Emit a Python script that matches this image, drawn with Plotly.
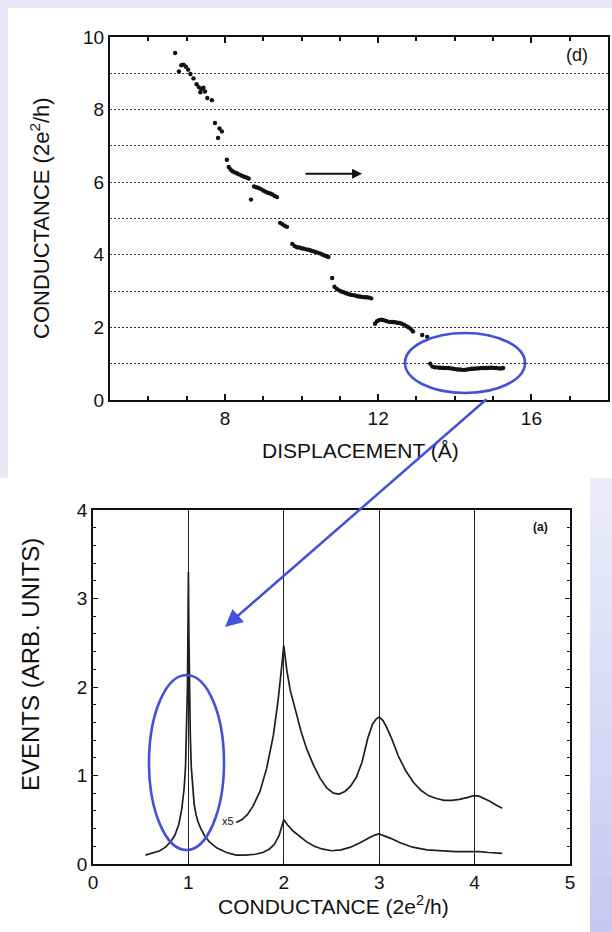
import plotly.graph_objects as go

W, H = 612, 932

# ---- panel (d): conductance vs. tip displacement ----
disp = [6.70, 6.80, 6.86, 6.92, 6.98, 7.04, 7.10, 7.18, 7.26, 7.32, 7.38, 7.44, 7.36, 7.48, 7.54, 7.66,
        7.74, 7.86, 7.92, 7.82,
        8.05, 8.10, 8.15, 8.20, 8.26, 8.32, 8.38, 8.44, 8.50, 8.56, 8.62, 8.68,
        8.76, 8.82, 8.88, 8.94, 9.00, 9.06, 9.12, 9.18, 9.24, 9.30, 9.36,
        9.44, 9.50, 9.56, 9.62,
        9.76, 9.82, 9.88, 9.94, 10.00, 10.06, 10.12, 10.18, 10.24, 10.30, 10.36, 10.42, 10.48, 10.54,
        10.60, 10.66, 10.70,
        10.80, 10.86, 10.92, 10.98, 11.04, 11.10, 11.16, 11.22, 11.28, 11.34, 11.40, 11.46, 11.52,
        11.58, 11.64, 11.70, 11.76, 11.82,
        11.92, 11.97, 12.02, 12.08, 12.14, 12.20, 12.26, 12.32, 12.38, 12.44, 12.50, 12.56, 12.62,
        12.68, 12.74, 12.80, 12.86, 12.91, 13.15, 13.28,
        13.36, 13.42, 13.48, 13.54, 13.60, 13.66, 13.72, 13.78, 13.84, 13.90, 13.96, 14.02, 14.08,
        14.14, 14.20, 14.26, 14.32, 14.38, 14.44, 14.50, 14.56, 14.62, 14.68, 14.74, 14.80, 14.86,
        14.92, 14.98, 15.04, 15.10, 15.16, 15.22, 15.26]
cond = [9.56, 9.05, 9.22, 9.24, 9.18, 9.10, 8.98, 8.86, 8.70, 8.62, 8.57, 8.60, 8.48, 8.50, 8.32, 8.26,
        7.63, 7.48, 7.40, 7.22,
        6.62, 6.42, 6.35, 6.30, 6.27, 6.24, 6.21, 6.18, 6.15, 6.13, 6.10, 5.52,
        5.88, 5.86, 5.84, 5.81, 5.77, 5.74, 5.71, 5.69, 5.66, 5.62, 5.59,
        4.88, 4.84, 4.80, 4.77,
        4.30, 4.24, 4.21, 4.20, 4.18, 4.17, 4.15, 4.14, 4.12, 4.10, 4.08, 4.06, 4.04, 4.01,
        3.98, 3.96, 3.94,
        3.36, 3.12, 3.06, 3.02, 2.99, 2.97, 2.94, 2.92, 2.90, 2.89, 2.88, 2.86, 2.85,
        2.84, 2.83, 2.83, 2.82, 2.80,
        2.10, 2.17, 2.20, 2.21, 2.20, 2.18, 2.16, 2.15, 2.15, 2.14, 2.13, 2.12, 2.10,
        2.07, 2.03, 2.00, 1.95, 1.89, 1.79, 1.74,
        1.00, 0.92, 0.90, 0.90, 0.89, 0.89, 0.88, 0.88, 0.88, 0.87, 0.86, 0.85, 0.84,
        0.84, 0.83, 0.83, 0.84, 0.85, 0.86, 0.86, 0.87, 0.87, 0.88, 0.88, 0.88, 0.88,
        0.89, 0.89, 0.88, 0.88, 0.87, 0.87, 0.88]

# ---- panel (a): conductance histogram ----
g_full = [0.55, 0.62, 0.70, 0.76, 0.82, 0.86, 0.90, 0.93, 0.955, 0.97, 0.98, 0.99, 0.995, 1.0,
          1.005, 1.01, 1.02, 1.03, 1.045, 1.06, 1.08, 1.10, 1.13, 1.17, 1.22, 1.30, 1.40, 1.50,
          1.60, 1.70, 1.78, 1.85, 1.90, 1.95, 2.0, 2.04, 2.10, 2.17, 2.24, 2.32, 2.40, 2.50, 2.60,
          2.70, 2.80, 2.90, 2.96, 3.0, 3.05, 3.12, 3.22, 3.35, 3.50, 3.65, 3.80, 3.95, 4.05, 4.15, 4.29]
ev_full = [0.10, 0.12, 0.15, 0.19, 0.26, 0.33, 0.45, 0.62, 0.85, 1.10, 1.45, 2.0, 2.6, 3.3,
           2.6, 2.0, 1.45, 1.10, 0.85, 0.68, 0.56, 0.48, 0.40, 0.32, 0.25, 0.18, 0.13, 0.10,
           0.10, 0.11, 0.13, 0.17, 0.22, 0.32, 0.50, 0.44, 0.37, 0.31, 0.25, 0.20, 0.17, 0.15, 0.16,
           0.19, 0.24, 0.30, 0.33, 0.34, 0.32, 0.29, 0.24, 0.19, 0.16, 0.15, 0.14, 0.14, 0.14, 0.13, 0.12]

g_x5 = [1.50, 1.56, 1.62, 1.68, 1.75, 1.82, 1.89, 1.94, 1.98, 2.0, 2.03, 2.07, 2.12, 2.18, 2.24,
        2.31, 2.38, 2.45, 2.52, 2.58, 2.64, 2.70, 2.76, 2.82, 2.88, 2.93, 2.97, 3.0, 3.04, 3.08,
        3.13, 3.20, 3.28, 3.36, 3.44, 3.52, 3.60, 3.68, 3.76, 3.84, 3.92, 3.98, 4.04, 4.10, 4.16,
        4.22, 4.29]
ev_x5 = [0.47, 0.50, 0.56, 0.66, 0.82, 1.08, 1.45, 1.85, 2.25, 2.47, 2.20, 1.95, 1.75, 1.50, 1.30,
         1.12, 0.97, 0.86, 0.80, 0.79, 0.82, 0.88, 0.98, 1.15, 1.42, 1.58, 1.64, 1.66, 1.62, 1.54,
         1.42, 1.22, 1.05, 0.92, 0.83, 0.77, 0.74, 0.72, 0.72, 0.73, 0.75, 0.77, 0.77, 0.74, 0.71,
         0.67, 0.63]


def px(x):
    return x / W


def py(y):
    return 1 - y / H


INK = "#111111"
BLUE = "#4352d8"
FONT = "Liberation Sans, Arial, sans-serif"
DOTS = "2px,2px"

fig = go.Figure()
fig.add_trace(go.Scatter(x=disp, y=cond, mode="markers", xaxis="x", yaxis="y",
                         marker=dict(color=INK, size=4.4, line=dict(width=0)), hoverinfo="skip"))
fig.add_trace(go.Scatter(x=g_full, y=ev_full, mode="lines", xaxis="x2", yaxis="y2",
                         line=dict(color="#1e1e1e", width=1.7), hoverinfo="skip"))
fig.add_trace(go.Scatter(x=g_x5, y=ev_x5, mode="lines", xaxis="x2", yaxis="y2",
                         line=dict(color="#1e1e1e", width=1.7), hoverinfo="skip"))

axis_common = dict(showline=True, linecolor=INK, zeroline=False, color=INK, automargin=False,
                   tickfont=dict(family=FONT, size=19, color=INK))

fig.update_layout(
    width=W, height=H, margin=dict(l=0, r=0, t=0, b=0, pad=0, autoexpand=False),
    paper_bgcolor="#e7e7f8", plot_bgcolor="white", showlegend=False,
    font=dict(family=FONT, color=INK),
    xaxis=dict(domain=[px(110), px(608)], range=[5, 18], anchor="y",
               tickvals=[8, 12, 16], ticks="inside", ticklen=6, tickwidth=1.5, tickcolor=INK,
               minor=dict(dtick=1, tick0=0, ticks="inside", ticklen=4, tickcolor=INK),
               mirror="ticks", linewidth=2, showgrid=False, **axis_common),
    yaxis=dict(domain=[py(400), py(37)], range=[0, 10], anchor="x",
               tickvals=[0, 2, 4, 6, 8, 10], ticks="", mirror=True, linewidth=2,
               showgrid=True, gridcolor="#303030", gridwidth=1.3, griddash=DOTS,
               minor=dict(dtick=1, tick0=0, showgrid=True, gridcolor="#303030",
                          gridwidth=1.3, griddash=DOTS),
               **axis_common),
    xaxis2=dict(domain=[px(93), px(570)], range=[0, 5], anchor="y2",
                dtick=1, tick0=0, ticks="inside", ticklen=5, tickcolor=INK,
                mirror="ticks", linewidth=1.6, showgrid=True, gridcolor="#222222", gridwidth=1.2,
                **axis_common),
    yaxis2=dict(domain=[py(864), py(510)], range=[0, 4], anchor="x2",
                dtick=1, tick0=0, ticks="inside", ticklen=5, tickcolor=INK,
                minor=dict(dtick=0.2, tick0=0, ticks="inside", ticklen=3, tickcolor=INK),
                mirror="ticks", linewidth=1.6, showgrid=False, **axis_common),
)

# page panels behind the two plots
shapes = [
    dict(type="rect", xref="paper", yref="paper", x0=px(8), x1=px(612), y0=py(478), y1=py(8),
         fillcolor="white", line=dict(width=0), layer="below"),
    dict(type="rect", xref="paper", yref="paper", x0=px(0), x1=px(590), y0=py(932), y1=py(478),
         fillcolor="white", line=dict(width=0), layer="below"),
]
# shaded strip at lower right, lighter at the top
n_band = 24
top_rgb, bot_rgb = (236, 236, 251), (200, 200, 240)
for i in range(n_band):
    t = i / (n_band - 1)
    c = tuple(round(a + (b - a) * t) for a, b in zip(top_rgb, bot_rgb))
    y0 = 478 + (932 - 478) * i / n_band
    y1 = 478 + (932 - 478) * (i + 1) / n_band
    shapes.append(dict(type="rect", xref="paper", yref="paper", x0=px(590), x1=px(612),
                       y0=py(y1), y1=py(y0), fillcolor="rgb(%d,%d,%d)" % c,
                       line=dict(width=0), layer="below"))
# highlight ellipses
shapes.append(dict(type="circle", xref="paper", yref="paper", x0=px(405), x1=px(525),
                   y0=py(393), y1=py(333), line=dict(color=BLUE, width=2.6)))
shapes.append(dict(type="circle", xref="paper", yref="paper", x0=px(149), x1=px(224),
                   y0=py(850), y1=py(675), line=dict(color=BLUE, width=2.6)))
fig.update_layout(shapes=shapes)

ann = [
    dict(text="CONDUCTANCE (2e<sup>2</sup>/h)", x=px(40), y=py(218), textangle=-90,
         font=dict(size=22)),
    dict(text="DISPLACEMENT (Å)", x=px(360), y=py(450), font=dict(size=21)),
    dict(text="(d)", x=px(577), y=py(55), font=dict(size=18)),
    dict(text="EVENTS (ARB. UNITS)", x=px(30), y=py(665), textangle=-90, font=dict(size=24)),
    dict(text="CONDUCTANCE (2e<sup>2</sup>/h)", x=px(333), y=py(905), font=dict(size=21)),
    dict(text="<b>(a)</b>", x=px(540), y=py(527), font=dict(size=12)),
    dict(text="x5", x=px(228), y=py(821), font=dict(size=11)),
]
for a in ann:
    a.update(xref="paper", yref="paper", showarrow=False, xanchor="center", yanchor="middle")
    a["font"].update(family=FONT, color=INK)

# arrow marking the elongation direction
ann.append(dict(x=11.58, y=6.23, xref="x", yref="y", ax=-58, ay=0, text="",
                showarrow=True, arrowhead=2, arrowsize=1.0, arrowwidth=2, arrowcolor=INK))
# link from the last plateau to the first histogram peak
ann.append(dict(x=px(225), y=py(627), xref="paper", yref="paper", ax=263, ay=-229, text="",
                showarrow=True, arrowhead=2, arrowsize=1.4, arrowwidth=2.5, arrowcolor=BLUE))
fig.update_layout(annotations=ann)

fig.write_html("out.html")
